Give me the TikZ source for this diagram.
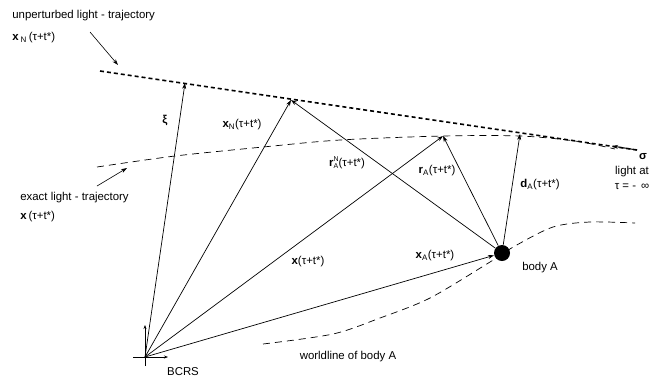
\documentclass[tikz,border=0pt]{standalone}
\usepackage{fontspec}
\setmainfont{Liberation Sans}
\usetikzlibrary{arrows.meta}
\newcommand{\ttau}{(τ+t*)}
\newcommand{\subsupA}{\raisebox{-0.25ex}{\scriptsize\shortstack[l]{N\\[-0.35ex]A}}}
\begin{document}
\begin{tikzpicture}[x=1pt, y=-1pt, line width=0.7pt,
    vec/.style={-{Stealth[length=6pt,width=4pt]}},
    light/.style={line width=1.6pt, dash pattern=on 4pt off 3pt},
    exact/.style={dash pattern=on 7pt off 5pt},
    lbl/.style={font=\fontsize{11.4}{13}\selectfont, inner sep=0pt}]
            \useasboundingbox (0,0) rectangle (663,378);
            % points
            \coordinate (O) at (145,357);
            \coordinate (xiTip) at (185,83);
            \coordinate (xNTip) at (291,100);
            \coordinate (xTip) at (443,136);
            \coordinate (dTip) at (520,134);
            \coordinate (lightStart) at (100,71);
            \coordinate (lightEnd) at (637,150);
            \coordinate (sigmaTip) at (612,146);
            \node[circle, fill, minimum size=16pt, inner sep=0pt] (bodyA) at (502,253) {};
            % trajectories
            \draw[light] (lightStart) -- (lightEnd);
            \draw[vec, line width=1pt] (lightEnd) -- (sigmaTip);
            \draw[exact] plot[smooth] coordinates {(97,167) (175,156) (263,147) (340,140) (443,136) (520,136) (575,141) (615,149)};
            \draw[exact] plot[smooth] coordinates {(263,344) (333,334) (380,318) (430,298) (490,262) (515,246) (553,227) (590,222) (635,223)};
            % BCRS axes
            \coordinate (axL) at (133,357);
            \coordinate (axR) at (168,357);
            \coordinate (axD) at (145,366);
            \coordinate (axU) at (145,325);
            \draw[-{Stealth[length=4pt,width=3pt]}, line width=0.6pt] (axL) -- (axR);
            \draw[-{Stealth[length=4pt,width=3pt]}, line width=0.6pt] (axD) -- (axU);
            % vectors
            \begin{scope}[every edge/.style={draw, vec}]
            \draw (O) edge (xiTip);
            \draw (O) edge (xNTip);
            \draw (O) edge (xTip);
            \draw (O) edge (bodyA);
            \draw (bodyA) edge (xNTip);
            \draw (bodyA) edge (xTip);
            \draw (bodyA) edge (dTip);
            \end{scope}
            % pointers to the trajectories
            \coordinate (p1) at (90,32);
            \coordinate (p1t) at (118,65);
            \coordinate (p2) at (97,186);
            \coordinate (p2t) at (127,168);
            \draw[vec, line width=0.6pt] (p1) -- (p1t);
            \draw[vec, line width=0.6pt] (p2) -- (p2t);
            % labels
            \begin{scope}[every node/.style={lbl}]
            \node[anchor=west] (unpert) at (12,16) {unperturbed light - trajectory};
            \node[anchor=west] (unpertX) at (12,38) {\textbf{x}\,\textsubscript{N}\,\ttau};
            \node[anchor=west] (exactL) at (20,198) {exact light - trajectory};
            \node[anchor=west] (exactX) at (20,217) {\textbf{x}\,\ttau};
            \node (xi) at (165,120) {\textbf{ξ}};
            \node (xN) at (242,125) {\textbf{x}\textsubscript{N}\ttau};
            \node (rAN) at (347,163) {\textbf{r}\subsupA\ttau};
            \node (rA) at (437,171) {\textbf{r}\textsubscript{A}\ttau};
            \node (dA) at (540,185) {\textbf{d}\textsubscript{A}\ttau};
            \node (sigma) at (643,157) {\textbf{σ}};
            \node (lightAt) at (632,172) {light at};
            \node (tauInf) at (632,187) {τ = -\, ∞};
            \node (xLbl) at (308,262) {\textbf{x}\ttau};
            \node (xA) at (435,256) {\textbf{x}\textsubscript{A}\ttau};
            \node (bodyLbl) at (540,268) {body A};
            \node (world) at (348,357) {worldline of body A};
            \node (bcrs) at (183,372) {BCRS};
            \end{scope}
\end{tikzpicture}
\end{document}
